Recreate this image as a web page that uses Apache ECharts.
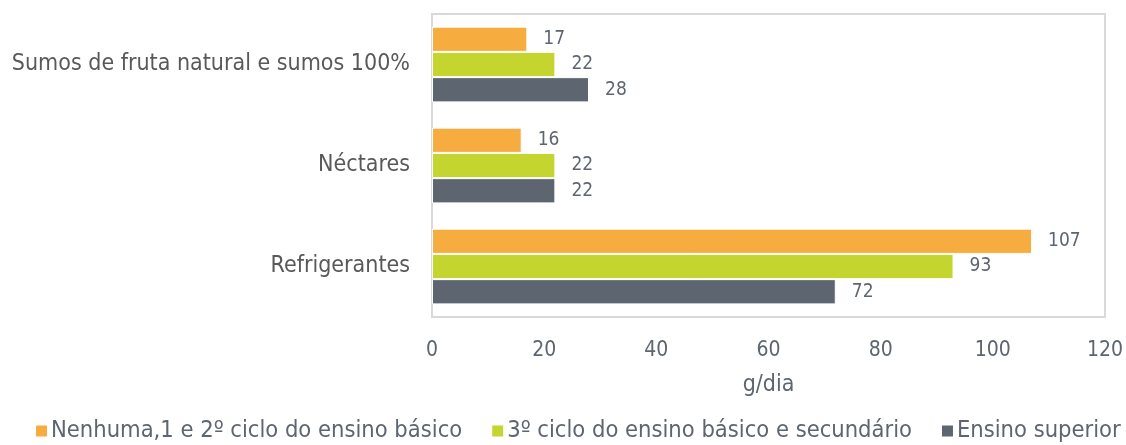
<!DOCTYPE html>
<html><head><meta charset="utf-8">
<script src="https://cdn.jsdelivr.net/npm/echarts@6/dist/echarts.min.js"></script>
<style>html,body{margin:0;padding:0;background:#fff}#c{width:1126px;height:445px}</style>
</head><body><div id="c"></div>
<script>
const categories = ["Sumos de fruta natural e sumos 100%", "Néctares", "Refrigerantes"];
const seriesNames = ["Nenhuma,1 e 2º ciclo do ensino básico", "3º ciclo do ensino básico e secundário", "Ensino superior"];
const valuesLow = [17, 16, 107];
const valuesMid = [22, 22, 93];
const valuesHigh = [28, 22, 72];
const xTicks = [0, 20, 40, 60, 80, 100, 120];
const colors = ["#F7AC3F", "#C4D52F", "#5D6670"];
const FONT = "DejaVu Sans Condensed";
const chart = echarts.init(document.getElementById('c'));
const mk = (name, data, color) => ({
  name, type: 'bar', data,
  barCategoryGap: '25%', barGap: '0%',
  itemStyle: {color, borderColor: '#fff', borderWidth: 1},
  label: {show: true, position: 'right', distance: 16, color: '#5D6670', fontFamily: FONT, fontSize: 19},
  animation: false
});
chart.setOption({
  animation: false,
  textStyle: {fontFamily: FONT},
  grid: {left: 432, right: 21, top: 14, bottom: 128, show: true, borderColor: '#D9D9D9', borderWidth: 2},
  legend: {
    bottom: -3, left: 34, width: 1092, itemWidth: 13, itemHeight: 13, itemGap: 28,
    icon: 'rect', padding: [5, 0, 5, 0],
    textStyle: {color: '#5D6670', fontFamily: FONT, fontSize: 23.5, padding: [0,0,0,-2]},
    data: seriesNames
  },
  xAxis: {
    type: 'value', min: xTicks[0], max: xTicks[xTicks.length-1], interval: 20,
    name: 'g/dia', nameLocation: 'middle', nameGap: 57,
    nameTextStyle: {color: '#5D6670', fontFamily: FONT, fontSize: 23},
    axisLine: {show: false}, axisTick: {show: false}, splitLine: {show: false},
    axisLabel: {color: '#5D6670', fontFamily: FONT, fontSize: 21, margin: 23}
  },
  yAxis: {
    type: 'category', data: categories, inverse: true,
    axisLine: {show: true, lineStyle: {color: '#D9D9D9', width: 2}}, axisTick: {show: false},
    axisLabel: {color: '#595959', fontFamily: FONT, fontSize: 23, margin: 22}
  },
  series: [mk(seriesNames[0], valuesLow, colors[0]), mk(seriesNames[1], valuesMid, colors[1]), mk(seriesNames[2], valuesHigh, colors[2])]
});
</script></body></html>
